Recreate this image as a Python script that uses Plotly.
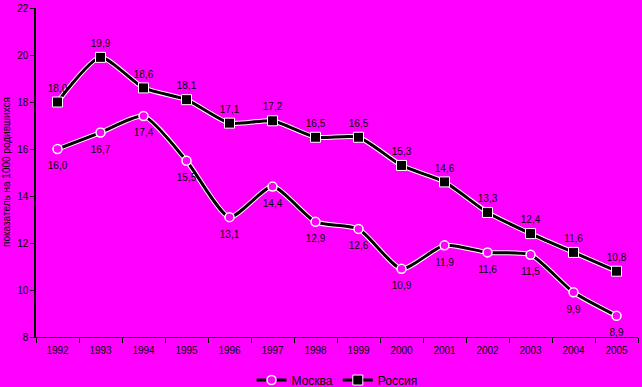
import plotly.graph_objects as go

years = ["1992", "1993", "1994", "1995", "1996", "1997", "1998", "1999",
         "2000", "2001", "2002", "2003", "2004", "2005"]
moscow = [16.0, 16.7, 17.4, 15.5, 13.1, 14.4, 12.9, 12.6, 10.9, 11.9, 11.6, 11.5, 9.9, 8.9]
russia = [18.0, 19.9, 18.6, 18.1, 17.1, 17.2, 16.5, 16.5, 15.3, 14.6, 13.3, 12.4, 11.6, 10.8]
y_title = "показатель на 1000 родившихся"

def fmt(v):
    return f"{v:.1f}".replace(".", ",")

MAG = "#FF00FF"
FONT = "Arial, Liberation Sans, sans-serif"
fig = go.Figure()

for ys in (moscow, russia):
    fig.add_trace(go.Scatter(x=years, y=ys, mode="lines",
                             line=dict(color="white", width=5, shape="spline", smoothing=0.6),
                             showlegend=False, hoverinfo="skip"))

fig.add_trace(go.Scatter(
    x=years, y=moscow, name="Москва", mode="lines+markers",
    line=dict(color="black", width=3, shape="spline", smoothing=0.6),
    marker=dict(symbol="circle", size=9, color=MAG, line=dict(color="white", width=1.5)),
))
fig.add_trace(go.Scatter(
    x=years, y=russia, name="Россия", mode="lines+markers",
    line=dict(color="black", width=3, shape="spline", smoothing=0.6),
    marker=dict(symbol="square", size=10, color="black", line=dict(color="white", width=1)),
))
# value labels (invisible markers set the label offset)
fig.add_trace(go.Scatter(
    x=years, y=moscow, mode="markers+text", showlegend=False, hoverinfo="skip",
    marker=dict(size=19, color="rgba(0,0,0,0)"),
    text=[fmt(v) for v in moscow], textposition="bottom center",
    textfont=dict(family=FONT, size=10, color="black"),
))
fig.add_trace(go.Scatter(
    x=years, y=russia, mode="markers+text", showlegend=False, hoverinfo="skip",
    marker=dict(size=11, color="rgba(0,0,0,0)"),
    text=[fmt(v) for v in russia], textposition="top center",
    textfont=dict(family=FONT, size=10, color="black"),
))

fig.update_layout(
    width=642, height=387,
    paper_bgcolor=MAG, plot_bgcolor=MAG,
    margin=dict(l=36, r=4, t=8, b=50, autoexpand=False),
    font=dict(family=FONT, size=10, color="black"),
    legend=dict(orientation="h", x=0.5, xanchor="center", yref="container", y=0.018, yanchor="middle",
                font=dict(size=12), bgcolor="rgba(0,0,0,0)"),
    annotations=[dict(text=y_title, xref="paper", yref="paper", x=-0.049, y=0.5,
                      xanchor="center", yanchor="middle", textangle=-90, showarrow=False,
                      font=dict(size=10, color="black"))],
)
fig.update_xaxes(type="category", showgrid=False, showline=True, linecolor="black", linewidth=1,
                 ticks="outside", tickson="boundaries", ticklen=5, tickcolor="black",
                 tickfont=dict(size=10), range=[-0.5, 13.5], automargin=False, ticklabelstandoff=4)
fig.update_yaxes(range=[8, 22], dtick=2, showgrid=False, showline=True, linecolor="black",
                 linewidth=1.5, ticks="outside", ticklen=4, tickcolor="black", zeroline=False,
                 tickfont=dict(size=10), automargin=False)

fig.write_html("out.html", config={"displayModeBar": False},
               post_script="document.body.style.margin='0';document.body.style.background='#FF00FF';")
